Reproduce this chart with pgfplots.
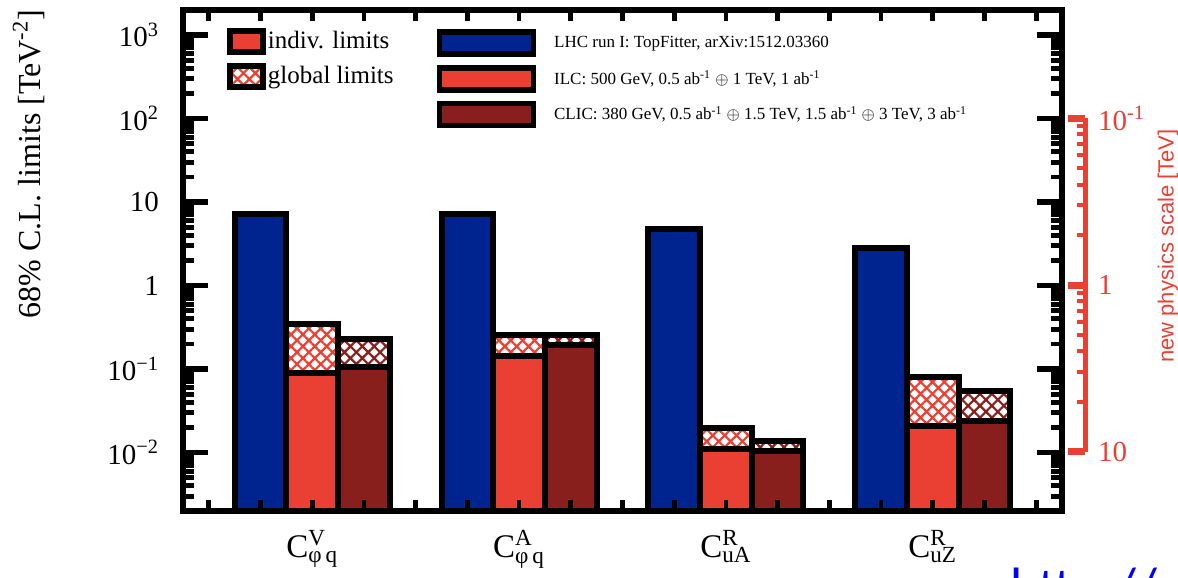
\documentclass[border=0pt]{standalone}
\usepackage{pgfplots}
\pgfplotsset{compat=1.18}
\usetikzlibrary{patterns.meta}
\usepackage{fontspec}
\setmainfont{Liberation Serif}
\newfontfamily\sansf{Liberation Sans}
\newfontfamily\slidef{Carlito}
\definecolor{myblue}{HTML}{00248F}
\definecolor{myred}{HTML}{E94033}
\definecolor{mydark}{HTML}{891F1C}
\newcommand{\SupSub}[2]{\rlap{\textsuperscript{#1}}\textsubscript{#2}}
\tikzset{
  hatchred/.style={preaction={fill=white}, preaction={pattern={Hatch[distance=4.2pt,angle=45,line width=1.1pt]}, pattern color=myred}},
  hatchdark/.style={preaction={fill=white}, preaction={pattern={Hatch[distance=4.2pt,angle=45,line width=1.1pt]}, pattern color=mydark}},
}
\begin{document}
\begin{tikzpicture}
\useasboundingbox (0,0) rectangle (589pt,289pt);
% main axis
\begin{axis}[
  at={(91.5pt,33.5pt)}, anchor=south west,
  scale only axis, width=439.5pt, height=250.5pt,
  xmin=-0.5, xmax=16.5,
  ymode=log, ymin=0.002, ymax=2000, log origin=infty,
  axis on top,
  axis line style={line width=3pt},
  xtick={2,6,10,14},
  xticklabels={{C\SupSub{V}{φ\,q}},{C\SupSub{A}{φ\,q}},{C\SupSub{R}{uA}},{C\SupSub{R}{uZ}}},
  minor xtick={0,1,2,3,4,5,6,7,8,9,10,11,12,13,14,15,16},
  major x tick style={draw=none},
  ytick={0.01,0.1,1,10,100,1000},
  yticklabels={10\textsuperscript{−2},10\textsuperscript{−1},1,10,10\textsuperscript{2},10\textsuperscript{3}},
  minor ytick={0.002,0.003,0.004,0.005,0.006,0.007,0.008,0.009,
    0.02,0.03,0.04,0.05,0.06,0.07,0.08,0.09,
    0.2,0.3,0.4,0.5,0.6,0.7,0.8,0.9,
    2,3,4,5,6,7,8,9,20,30,40,50,60,70,80,90,
    200,300,400,500,600,700,800,900},
  tick align=inside,
  major tick length=12.5pt, minor tick length=5.5pt,
  major tick style={line width=2.8pt, black},
  minor tick style={line width=2.4pt, black},
  xticklabel style={font=\fontsize{16.5}{18}\selectfont, yshift=-6pt},
  yticklabel style={font=\fontsize{14.5}{16}\selectfont, xshift=-8.5pt},
  legend style={at={(axis description cs:0.050,0.964)}, anchor=north west, draw=none, fill=none,
    inner sep=0pt, row sep=4pt, font=\fontsize{12.5}{14}\selectfont,
    nodes={inner sep=1pt}},
  legend cell align=left,
  legend image code/.code={\draw[#1, line width=2.8pt] (0pt,-5.25pt) rectangle (16.5pt,5.25pt);},
]
\addplot[ybar, bar width=1, bar shift=0pt, draw=black, line width=3pt, fill=myblue, forget plot]
  coordinates {(1,7.3) (5,7.3) (9,4.8) (13,2.85)};
\addplot[ybar, bar width=1, bar shift=0pt, draw=black, line width=3pt, hatchred, forget plot]
  coordinates {(2,0.35) (6,0.256) (10,0.0197) (14,0.0805)};
\addplot[ybar, bar width=1, bar shift=0pt, draw=black, line width=3pt, fill=myred, forget plot]
  coordinates {(2,0.090) (6,0.144) (10,0.0110) (14,0.0209)};
\addplot[ybar, bar width=1, bar shift=0pt, draw=black, line width=3pt, hatchdark, forget plot]
  coordinates {(3,0.230) (7,0.256) (11,0.0138) (15,0.054)};
\addplot[ybar, bar width=1, bar shift=0pt, draw=black, line width=3pt, fill=mydark, forget plot]
  coordinates {(3,0.106) (7,0.197) (11,0.0105) (15,0.0239)};
\addlegendimage{fill=myred}
\addlegendentry{indiv. limits}
\addlegendimage{hatchred}
\addlegendentry{global limits}
\end{axis}
% second legend
\begin{axis}[
  at={(91.5pt,33.5pt)}, anchor=south west,
  scale only axis, width=439.5pt, height=250.5pt,
  hide axis, xmin=0, xmax=1, ymin=0, ymax=1,
  legend style={at={(axis description cs:0.288,0.962)}, anchor=north west, draw=none, fill=none,
    inner sep=0pt, row sep=4pt, font=\fontsize{8.5}{10}\selectfont,
    nodes={inner sep=1pt}},
  legend cell align=left,
  legend image code/.code={\draw[#1, line width=2.8pt] (0pt,-5.5pt) rectangle (47pt,5.5pt);},
  /tikz/every odd column/.append style={column sep=8pt},
]
\addlegendimage{fill=myblue}
\addlegendentry{LHC run I: TopFitter, arXiv:1512.03360}
\addlegendimage{fill=myred}
\addlegendentry{ILC: 500 GeV, 0.5 ab\textsuperscript{-1} $\oplus$ 1 TeV, 1 ab\textsuperscript{-1}}
\addlegendimage{fill=mydark}
\addlegendentry{CLIC: 380 GeV, 0.5 ab\textsuperscript{-1} $\oplus$ 1.5 TeV, 1.5 ab\textsuperscript{-1} $\oplus$ 3 TeV, 3 ab\textsuperscript{-1}}
\end{axis}
% right scale axis
\begin{axis}[
  at={(542.5pt,63.15pt)}, anchor=south east,
  scale only axis, width=10pt, height=166.7pt,
  xmin=0, xmax=1,
  ymode=log, ymin=0.1, ymax=10,
  hide x axis,
  axis y line*=right,
  y axis line style={myred, line width=2.5pt, -},
  ytick={0.1,1,10},
  yticklabels={10,1,10\textsuperscript{-1}},
  minor ytick={0.2,0.3,0.4,0.5,0.6,0.7,0.8,0.9,2,3,4,5,6,7,8,9},
  tick align=inside,
  major tick length=8.5pt, minor tick length=4pt,
  major tick style={line width=3.5pt, myred},
  minor tick style={line width=2pt, myred},
  yticklabel style={font=\fontsize{14.5}{16}\selectfont, text=myred, xshift=3pt},
]
\end{axis}
\node[rotate=90, font=\fontsize{16}{18}\selectfont] at (14.25pt,207pt) {68\% C.L. limits [TeV\textsuperscript{-2}]};
\node[rotate=90, font=\sansf\fontsize{11}{13}\selectfont, text=myred] at (584pt,166pt) {new physics scale [TeV]};
\node[anchor=base west, font=\slidef\fontsize{27}{30}\selectfont, text=blue, inner sep=0pt] at (505pt,-14pt) {http://};
\end{tikzpicture}
\end{document}
